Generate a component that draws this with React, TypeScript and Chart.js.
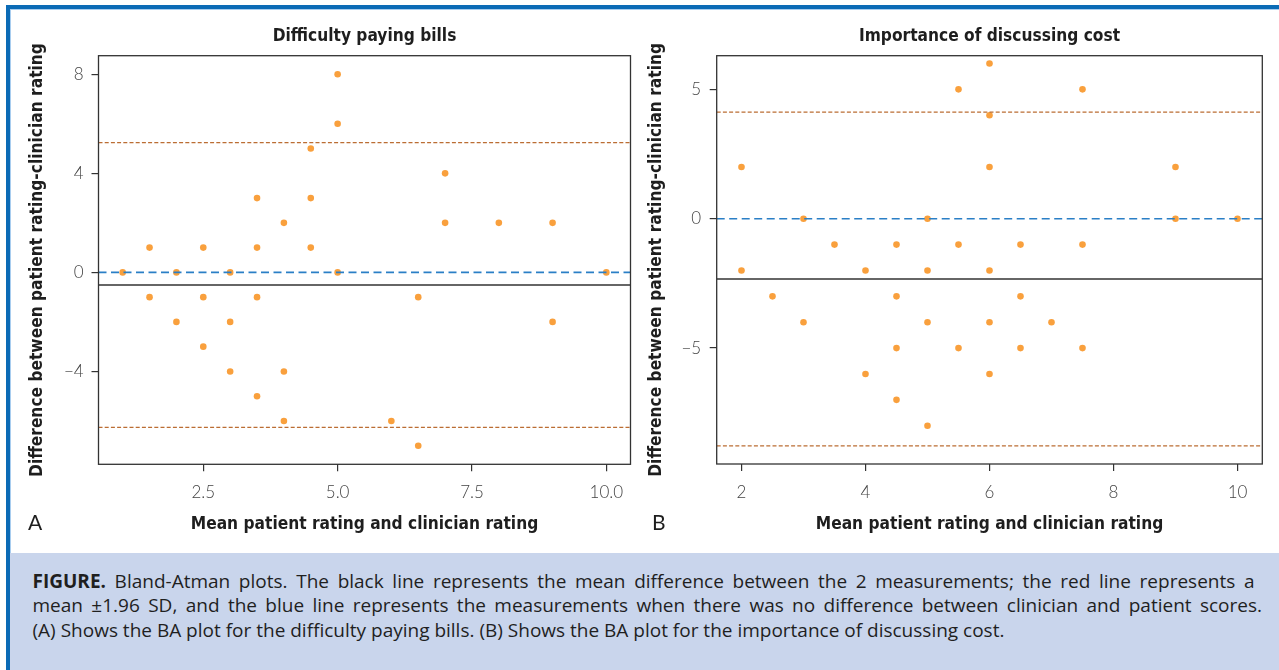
import React, { useEffect, useRef } from "react";
import { Chart, registerables } from "chart.js";

Chart.register(...registerables);

// ---------- text ----------
const titleA = "Difficulty paying bills";
const titleB = "Importance of discussing cost";
const xAxisTitle = "Mean patient rating and clinician rating";
const yAxisTitle = "Difference between patient rating-clinician rating";
const panelA = "A";
const panelB = "B";

// ---------- panel A data ----------
const meanA = [1, 1.5, 1.5, 2, 2, 2.5, 2.5, 2.5, 3, 3, 3, 3.5, 3.5, 3.5, 3.5, 4, 4, 4, 4.5, 4.5, 4.5, 5, 5, 5, 6, 6.5, 6.5, 7, 7, 8, 9, 9, 10];
const diffA = [0, 1, -1, 0, -2, 1, -1, -3, 0, -2, -4, 3, 1, -1, -5, 2, -4, -6, 5, 3, 1, 8, 6, 0, -6, -1, -7, 4, 2, 2, 2, -2, 0];
const meanDiffA = -0.51;
const loaUpperA = 5.24;
const loaLowerA = -6.26;
const xRangeA = [0.55, 10.45];
const yRangeA = [-7.75, 8.75];
const xTicksA = [2.5, 5, 7.5, 10];
const xTickLabelsA = ["2.5", "5.0", "7.5", "10.0"];
const yTicksA = [-4, 0, 4, 8];
const yTickLabelsA = ["\u22124", "0", "4", "8"];

// ---------- panel B data ----------
const meanB = [2, 2, 2.5, 3, 3, 3.5, 4, 4, 4.5, 4.5, 4.5, 4.5, 5, 5, 5, 5, 5.5, 5.5, 5.5, 6, 6, 6, 6, 6, 6, 6.5, 6.5, 6.5, 7, 7.5, 7.5, 7.5, 9, 9, 10];
const diffB = [2, -2, -3, 0, -4, -1, -2, -6, -1, -3, -5, -7, 0, -2, -4, -8, 5, -1, -5, 6, 4, 2, -2, -4, -6, -1, -3, -5, -4, 5, -1, -5, 2, 0, 0];
const meanDiffB = -2.33;
const loaUpperB = 4.12;
const loaLowerB = -8.78;
const xRangeB = [1.6, 10.4];
const yRangeB = [-9.48, 6.3];
const xTicksB = [2, 4, 6, 8, 10];
const xTickLabelsB = ["2", "4", "6", "8", "10"];
const yTicksB = [-5, 0, 5];
const yTickLabelsB = ["\u22125", "0", "5"];

const noDiff = 0;

// ---------- styles ----------
const POINT_COLOR = "#f9a03d";
const LOA_COLOR = "#bb6d33";
const ZERO_COLOR = "#2a7fc6";
const MEAN_COLOR = "#333333";
const AXIS_COLOR = "#333333";
const HEAD_FONT = "'DejaVu Sans Condensed', 'Liberation Sans', sans-serif";
const HEAD_SIZE = 17.2;
const TICK_FONT = "Lato, 'Open Sans', sans-serif";

const framePlugin = {
  id: "frame",
  afterDatasetsDraw(chart: any) {
    const { ctx, chartArea } = chart;
    ctx.save();
    ctx.strokeStyle = AXIS_COLOR;
    ctx.lineWidth = 1.3;
    ctx.strokeRect(chartArea.left, chartArea.top, chartArea.right - chartArea.left, chartArea.bottom - chartArea.top);
    ctx.restore();
  },
};

type PanelSpec = {
  title: string;
  xs: number[];
  ys: number[];
  meanDiff: number;
  loaUpper: number;
  loaLower: number;
  xRange: number[];
  yRange: number[];
  xTicks: number[];
  xTickLabels: string[];
  yTicks: number[];
  yTickLabels: string[];
  yAxisWidth: number;
  xAxisHeight: number;
  padRight: number;
  yTickPad: number;
  yTitlePad: number;
};

function hLine(v: number, xr: number[]) {
  return [
    { x: xr[0], y: v },
    { x: xr[1], y: v },
  ];
}

function makeConfig(p: PanelSpec): any {
  const pts = p.xs.map((x, i) => ({ x, y: p.ys[i] }));
  const lineBase = { type: "line", pointRadius: 0, fill: false, order: 0, borderCapStyle: "butt" };
  const lh = HEAD_SIZE * 1.2;
  return {
    type: "scatter",
    data: {
      datasets: [
        { ...lineBase, data: hLine(p.loaUpper, p.xRange), borderColor: LOA_COLOR, borderWidth: 1.3, borderDash: [4, 2.2] },
        { ...lineBase, data: hLine(p.loaLower, p.xRange), borderColor: LOA_COLOR, borderWidth: 1.3, borderDash: [4, 2.2] },
        { ...lineBase, data: hLine(noDiff, p.xRange), borderColor: ZERO_COLOR, borderWidth: 1.6, borderDash: [8, 4.5] },
        { ...lineBase, data: hLine(p.meanDiff, p.xRange), borderColor: MEAN_COLOR, borderWidth: 1.3 },
        {
          type: "scatter",
          data: pts,
          backgroundColor: POINT_COLOR,
          borderWidth: 0,
          pointRadius: 3.3,
          pointHoverRadius: 3.3,
          order: 1,
        },
      ],
    },
    options: {
      responsive: false,
      animation: false,
      devicePixelRatio: 1,
      events: [],
      layout: { padding: { left: 0, right: p.padRight, top: 0, bottom: 0 } },
      plugins: {
        legend: { display: false },
        tooltip: { enabled: false },
        title: {
          display: true,
          text: p.title,
          fullSize: false,
          color: "#1e1e1e",
          font: { family: HEAD_FONT, size: HEAD_SIZE, weight: "bold", lineHeight: 1.2 },
          padding: { top: 37 - lh / 2, bottom: 55.7 - (37 + lh / 2) },
        },
      },
      scales: {
        x: {
          type: "linear",
          min: p.xRange[0],
          max: p.xRange[1],
          afterBuildTicks: (s: any) => {
            s.ticks = p.xTicks.map((v) => ({ value: v }));
          },
          afterFit: (s: any) => {
            s.height = p.xAxisHeight;
          },
          border: { display: false },
          grid: { display: true, drawOnChartArea: false, drawTicks: true, tickLength: 7, color: AXIS_COLOR, lineWidth: 1.2 },
          ticks: {
            autoSkip: false,
            maxRotation: 0,
            padding: 11.5,
            color: "#444",
            font: { family: TICK_FONT, size: 17, weight: "300", lineHeight: 1.2 },
            callback: (_v: any, i: number) => p.xTickLabels[i],
          },
          title: {
            display: true,
            text: xAxisTitle,
            color: "#1e1e1e",
            font: { family: HEAD_FONT, size: HEAD_SIZE, weight: "bold", lineHeight: 1.2 },
            padding: { top: 0, bottom: 545 - 524.5 - lh / 2 },
          },
        },
        y: {
          type: "linear",
          min: p.yRange[0],
          max: p.yRange[1],
          afterBuildTicks: (s: any) => {
            s.ticks = p.yTicks.map((v) => ({ value: v }));
          },
          afterFit: (s: any) => {
            s.width = p.yAxisWidth;
          },
          border: { display: false },
          grid: { display: true, drawOnChartArea: false, drawTicks: true, tickLength: 7, color: AXIS_COLOR, lineWidth: 1.2 },
          ticks: {
            autoSkip: false,
            padding: p.yTickPad,
            color: "#444",
            font: { family: TICK_FONT, size: 17, weight: "300", lineHeight: 1.2 },
            callback: (_v: any, i: number) => p.yTickLabels[i],
          },
          title: {
            display: true,
            text: yAxisTitle,
            color: "#1e1e1e",
            font: { family: HEAD_FONT, size: HEAD_SIZE, weight: "bold", lineHeight: 1.2 },
            padding: { top: p.yTitlePad - lh / 2, bottom: 0 },
          },
        },
      },
    },
    plugins: [framePlugin],
  };
}

function Panel(props: { spec: PanelSpec; left: number; width: number; height: number }) {
  const ref = useRef<HTMLCanvasElement | null>(null);
  useEffect(() => {
    if (!ref.current) return;
    const chart = new Chart(ref.current, makeConfig(props.spec));
    return () => chart.destroy();
  }, []);
  return (
    <canvas
      ref={ref}
      width={props.width}
      height={props.height}
      style={{ position: "absolute", left: props.left, top: 0, width: props.width, height: props.height }}
    />
  );
}

const specA: PanelSpec = {
  title: titleA,
  xs: meanA,
  ys: diffA,
  meanDiff: meanDiffA,
  loaUpper: loaUpperA,
  loaLower: loaLowerA,
  xRange: xRangeA,
  yRange: yRangeA,
  xTicks: xTicksA,
  xTickLabels: xTickLabelsA,
  yTicks: yTicksA,
  yTickLabels: yTickLabelsA,
  yAxisWidth: 98.5,
  xAxisHeight: 80.7,
  padRight: 9.5,
  yTickPad: 7.8,
  yTitlePad: 37.2,
};

const specB: PanelSpec = {
  title: titleB,
  xs: meanB,
  ys: diffB,
  meanDiff: meanDiffB,
  loaUpper: loaUpperB,
  loaLower: loaLowerB,
  xRange: xRangeB,
  yRange: yRangeB,
  xTicks: xTicksB,
  xTickLabels: xTickLabelsB,
  yTicks: yTicksB,
  yTickLabels: yTickLabelsB,
  yAxisWidth: 96.7,
  xAxisHeight: 81,
  padRight: 16.7,
  yTickPad: 8.5,
  yTitlePad: 36.8,
};

const captionLine1Rest = " Bland-Atman plots. The black line represents the mean difference between the 2 measurements; the red line represents a";
const captionLine2 = "mean \u00b11.96 SD, and the blue line represents the measurements when there was no difference between clinician and patient scores.";
const captionLine3 = "(A) Shows the BA plot for the difficulty paying bills. (B) Shows the BA plot for the importance of discussing cost.";

export default function App() {
  const BLUE = "#0b6bb6";
  const LIGHT = "#a8cdef";
  const capStyle: React.CSSProperties = {
    position: "absolute",
    left: 32.5,
    fontFamily: "'Open Sans', Lato, sans-serif",
    fontSize: 19,
    lineHeight: "24.3px",
    color: "#1f1f1f",
    whiteSpace: "nowrap",
  };
  const justify: React.CSSProperties = { textAlign: "justify", textAlignLast: "justify" as any, whiteSpace: "normal" };
  const letter: React.CSSProperties = {
    position: "absolute",
    top: 511.4,
    fontFamily: "Lato, 'Open Sans', sans-serif",
    fontSize: 21,
    lineHeight: "21px",
    color: "#1e1e1e",
  };
  return (
    <div style={{ position: "absolute", left: 0, top: 0, width: 1279, height: 670, background: "#ffffff", overflow: "hidden" }}>
      <div style={{ position: "absolute", left: 6, top: 5, width: 1273, height: 4, background: BLUE }} />
      <div style={{ position: "absolute", left: 10, top: 9, width: 1269, height: 1, background: LIGHT }} />
      <div style={{ position: "absolute", left: 6, top: 5, width: 4, height: 665, background: BLUE }} />
      <div style={{ position: "absolute", left: 10, top: 9, width: 1, height: 544, background: LIGHT }} />
      <div style={{ position: "absolute", left: 10, top: 553, width: 1269, height: 117, background: "#c9d5ec" }} />

      <Panel spec={specA} left={0} width={640} height={545} />
      <Panel spec={specB} left={620} width={659} height={545} />

      <div style={{ ...letter, left: 28 }}>{panelA}</div>
      <div style={{ ...letter, left: 652 }}>{panelB}</div>

      <div style={{ ...capStyle, ...justify, top: 569, width: 1222 }}>
        <b>FIGURE.</b>
        {captionLine1Rest}
      </div>
      <div style={{ ...capStyle, ...justify, top: 593.3, width: 1229.5 }}>{captionLine2}</div>
      <div style={{ ...capStyle, top: 617.6 }}>{captionLine3}</div>
    </div>
  );
}
